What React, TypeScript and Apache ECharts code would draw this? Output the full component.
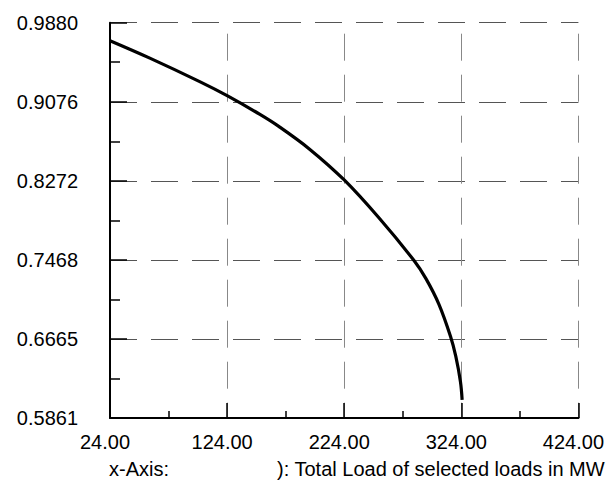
import React, { useEffect, useRef } from "react";
import * as echarts from "echarts";

const xValues = [24, 58.0, 100.6, 124.4, 151.7, 168.7, 194.2, 224, 253.8, 283.6, 293.8, 304.9, 314.8, 319.3, 323.3, 324.7];
const yValues = [0.9697, 0.952, 0.9281, 0.9136, 0.895, 0.8821, 0.8597, 0.8281, 0.7894, 0.7462, 0.7278, 0.7017, 0.669, 0.6488, 0.6228, 0.6046];
const yTickLabels = ["0.5861", "0.6665", "0.7468", "0.8272", "0.9076", "0.9880"];
const xTickLabels = ["24.00", "124.00", "224.00", "324.00", "424.00"];
const xAxisCaption = "x-Axis:";
const xAxisTitle = "): Total Load of selected loads in MW";

const Y_MIN = 0.5861;
const Y_MAX = 0.988;
const Y_STEP = (Y_MAX - Y_MIN) / 5;
const X_MIN = 24;
const X_MAX = 424;
const X_STEP = 100;

export default function App() {
  const ref = useRef<HTMLDivElement>(null);
  useEffect(() => {
    if (!ref.current) return;
    const chart = echarts.init(ref.current, null, { renderer: "svg" });
    const font = "'Liberation Sans', Arial, sans-serif";
    chart.setOption({
      animation: false,
      backgroundColor: "#ffffff",
      grid: { left: 110, right: 27, top: 22.7, bottom: 68, containLabel: false },
      xAxis: {
        type: "value",
        min: X_MIN,
        max: X_MAX,
        interval: X_STEP,
        axisLine: { show: true, onZero: false, lineStyle: { color: "#000", width: 2 } },
        axisTick: { show: true, inside: true, length: 15, lineStyle: { color: "#000", width: 1.5 } },
        minorTick: { show: true, splitNumber: 2, length: 7, lineStyle: { color: "#000", width: 1.5 } },
        splitLine: { show: true, lineStyle: { color: "#888", width: 1, type: [27, 14], dashOffset: 30 } },
        axisLabel: {
          show: true,
          margin: 14,
          fontSize: 20,
          fontFamily: font,
          color: "#000",
          padding: [0, 10, 0, 0],
          showMinLabel: true,
          showMaxLabel: true,
          formatter: (v: number) => {
            const i = Math.round((v - X_MIN) / X_STEP);
            return xTickLabels[i] ?? "";
          },
        },
      },
      yAxis: {
        type: "value",
        min: Y_MIN,
        max: Y_MAX,
        interval: Y_STEP,
        axisLine: { show: true, onZero: false, lineStyle: { color: "#000", width: 2 } },
        axisTick: { show: true, inside: true, length: 17, lineStyle: { color: "#000", width: 1.5 } },
        minorTick: { show: true, splitNumber: 2, length: 10, lineStyle: { color: "#000", width: 1.5 } },
        splitLine: { show: true, lineStyle: { color: "#555", width: 1, type: [27, 14], dashOffset: 0 } },
        axisLabel: {
          show: true,
          margin: 32,
          fontSize: 20,
          fontFamily: font,
          color: "#000",
          showMinLabel: true,
          showMaxLabel: true,
          formatter: (v: number) => {
            const i = Math.round((v - Y_MIN) / Y_STEP);
            return yTickLabels[i] ?? "";
          },
        },
      },
      series: [
        {
          type: "line",
          data: xValues.map((x, i) => [x, yValues[i]]),
          smooth: 0.35,
          showSymbol: false,
          symbol: "none",
          lineStyle: { color: "#000", width: 3.2 },
        },
      ],
      graphic: [
        {
          type: "text",
          left: 109,
          top: 459,
          style: { text: xAxisCaption, fontSize: 20, fontFamily: font, fill: "#000" },
        },
        {
          type: "text",
          right: 2,
          top: 459,
          style: { text: xAxisTitle, fontSize: 20, fontFamily: font, fill: "#000" },
        },
      ],
    });
    return () => chart.dispose();
  }, []);
  return (
    <div
      ref={ref}
      style={{ position: "fixed", left: 0, top: 0, width: 607, height: 486, background: "#fff" }}
    />
  );
}
